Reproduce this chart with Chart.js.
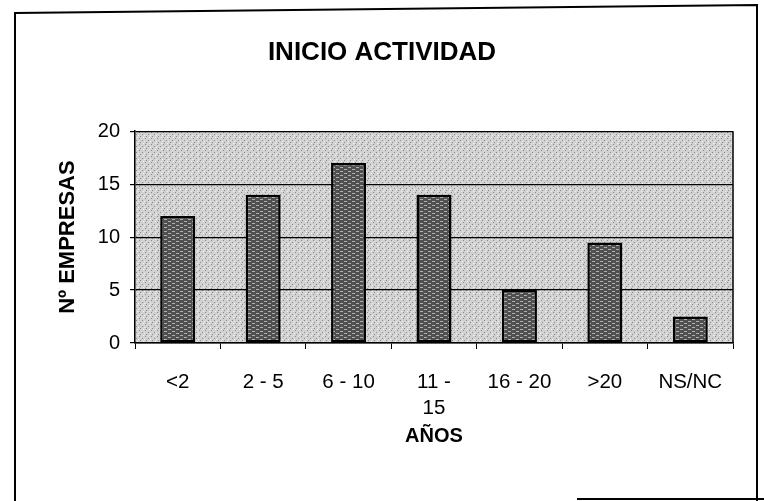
<!DOCTYPE html>
<html>
<head>
<meta charset="utf-8">
<script src="https://cdn.jsdelivr.net/npm/chart.js@4/dist/chart.umd.min.js"></script>
<style>
  html, body { margin: 0; padding: 0; background: #fff; }
  canvas { display: block; }
</style>
</head>
<body>
<canvas id="chartInicio" width="764" height="501"></canvas>
<script>
const categorias = ['<2', '2 - 5', '6 - 10', ['11 -', '15'], '16 - 20', '>20', 'NS/NC'];
const empresas = [12, 14, 17, 14, 5, 9.5, 2.5];
const yMin = 0;
const yMax = 20;
const yStep = 5;

const FONT = "'Liberation Sans', Arial, sans-serif";

// trama de la barra (gris oscuro con rayas claras, como el original)
function barPattern() {
  const c = document.createElement('canvas');
  c.width = 8; c.height = 4;
  const g = c.getContext('2d');
  g.fillStyle = '#505050';
  g.fillRect(0, 0, 8, 4);
  g.fillStyle = '#b0b0b0';
  g.fillRect(0, 1, 3, 1);
  g.fillRect(4, 3, 3, 1);
  return g.createPattern(c, 'repeat');
}

// punteado gris del fondo del area de trazado
function plotPattern() {
  const c = document.createElement('canvas');
  c.width = 6; c.height = 6;
  const g = c.getContext('2d');
  g.fillStyle = '#d2d2d2';
  g.fillRect(0, 0, 6, 6);
  g.fillStyle = '#8a8a8a';
  g.fillRect(1, 0, 1, 1);
  g.fillRect(4, 2, 1, 1);
  g.fillRect(2, 4, 1, 1);
  g.fillStyle = '#f2f2f2';
  g.fillRect(5, 5, 1, 1);
  g.fillRect(0, 3, 1, 1);
  return g.createPattern(c, 'repeat');
}

const marco = {
  id: 'marco',
  beforeDraw(chart) {
    const { ctx, chartArea: a } = chart;
    ctx.save();
    ctx.fillStyle = '#fff';
    ctx.fillRect(0, 0, chart.width, chart.height);
    ctx.fillStyle = plotPattern();
    ctx.fillRect(a.left, a.top, a.right - a.left, a.bottom - a.top);
    ctx.restore();
  },
  afterDraw(chart) {
    const { ctx, chartArea: a } = chart;
    ctx.save();
    ctx.strokeStyle = '#000';
    ctx.lineWidth = 1.5;
    ctx.beginPath();
    ctx.moveTo(a.right, a.top);
    ctx.lineTo(a.right, a.bottom);
    ctx.stroke();
    // marco exterior
    ctx.lineWidth = 2;
    ctx.beginPath();
    ctx.moveTo(15, 501);
    ctx.lineTo(15, 13);
    ctx.lineTo(757, 5);
    ctx.lineTo(757, 501);
    ctx.moveTo(577, 499);
    ctx.lineTo(764, 499);
    ctx.stroke();
    ctx.restore();
  }
};

new Chart(document.getElementById('chartInicio'), {
  type: 'bar',
  data: {
    labels: categorias,
    datasets: [{
      data: empresas,
      backgroundColor: barPattern(),
      borderColor: '#000',
      borderWidth: 2.5,
      borderSkipped: false,
      barPercentage: 0.41,
      categoryPercentage: 1
    }]
  },
  options: {
    responsive: false,
    animation: false,
    layout: { padding: 0 },
    plugins: {
      legend: { display: false },
      tooltip: { enabled: false },
      title: {
        display: true,
        text: 'INICIO ACTIVIDAD',
        color: '#000',
        font: { family: FONT, size: 26, weight: 'bold' },
        padding: { top: 37, bottom: 63 }
      }
    },
    scales: {
      x: {
        offset: true,
        afterFit: (s) => { s.height = 158; },
        grid: { display: true, drawOnChartArea: false, drawTicks: true, tickLength: 6, color: '#000', offset: true },
        border: { color: '#000', width: 1.5 },
        ticks: {
          color: '#000', padding: 21, maxRotation: 0, autoSkip: false,
          font: { family: FONT, size: 20.5, lineHeight: 1.25 }
        },
        title: {
          display: true, text: 'AÑOS', color: '#000',
          font: { family: FONT, size: 20, weight: 'bold' },
          padding: { top: 0, bottom: 53 }
        }
      },
      y: {
        min: yMin, max: yMax,
        afterFit: (s) => { s.width = 135; },
        grid: { color: '#000', lineWidth: 1.2, tickLength: 5 },
        border: { color: '#000', width: 1.5 },
        ticks: {
          stepSize: yStep, color: '#000', padding: 10,
          font: { family: FONT, size: 20 }
        },
        title: {
          display: true, text: 'Nº EMPRESAS', color: '#000',
          font: { family: FONT, size: 22, weight: 'bold' },
          padding: { top: 55, bottom: 0 }
        }
      },
      // margen derecho vacio (solo reserva espacio, no dibuja nada)
      margen: {
        type: 'linear', position: 'right', display: true,
        afterFit: (s) => { s.width = 31; },
        grid: { display: false, drawOnChartArea: false },
        border: { display: false },
        ticks: { display: false },
        title: { display: false }
      }
    }
  },
  plugins: [marco]
});
</script>
</body>
</html>
